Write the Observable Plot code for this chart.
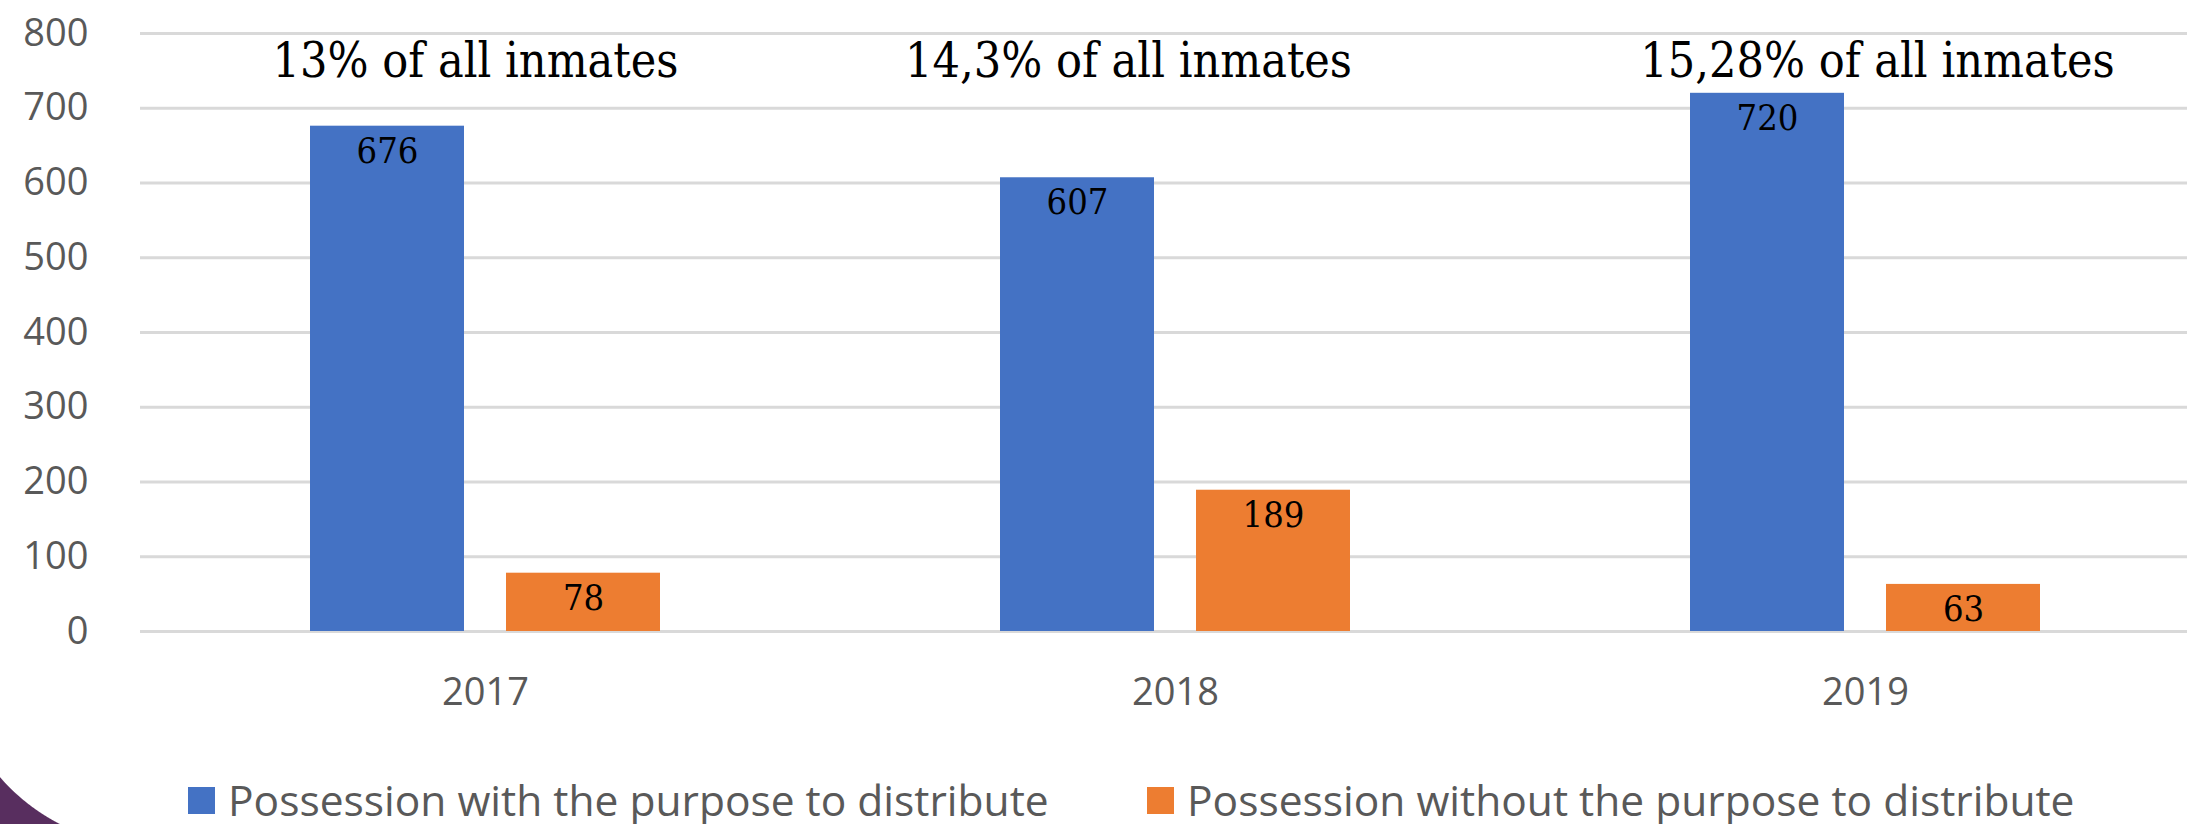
<!DOCTYPE html>
<html>
<head>
<meta charset="utf-8">
<script src="https://cdn.jsdelivr.net/npm/d3@7"></script>
<script src="https://cdn.jsdelivr.net/npm/@observablehq/plot@0.6"></script>
<style>
  html, body { margin: 0; padding: 0; background: white; overflow: hidden; width: 2187px; height: 824px; }
  #chart svg { display: block; }
  [font-family*="DejaVu Serif"] { font-stretch: condensed; }
  #legend { position: relative; height: 64px; font-family: 'Open Sans', sans-serif; color: #595959; font-size: 42.5px; line-height: 1; }
  #legend .item { position: absolute; top: 0; height: 80px; display: flex; align-items: center; white-space: nowrap; }
  #legend .sw { display: inline-block; width: 27px; height: 27px; margin-right: 13px; }
  #corner { position: absolute; left: 0; top: 760px; width: 80px; height: 64px;
    background: radial-gradient(circle 200px at 151px -114px, rgba(255,255,255,0) 199.5px, #582e5f 200.5px); }
</style>
</head>
<body>
<div id="chart"></div>
<div id="legend"></div>
<div id="corner"></div>
<script>
const years = ["2017", "2018", "2019"];
const seriesNames = [
  "Possession with the purpose to distribute",
  "Possession without the purpose to distribute"
];
const withPurpose = [676, 607, 720];
const withoutPurpose = [78, 189, 63];
const notes = ["13% of all inmates", "14,3% of all inmates", "15,28% of all inmates"];
const yTicks = [0, 100, 200, 300, 400, 500, 600, 700, 800];
const seriesColors = ["#4472C4", "#ED7D31"];

const rows = years.flatMap((year, i) => [
  {year, series: seriesNames[0], value: withPurpose[i]},
  {year, series: seriesNames[1], value: withoutPurpose[i]}
]);
const noteRows = years.map((year, i) => ({year, note: notes[i]}));

const serif = "'DejaVu Serif Condensed', 'DejaVu Serif', serif";
const noteLevel = 763;
const noteShift = {"2017": -10, "2018": -47, "2019": 12};

const chart = Plot.plot({
  width: 2187,
  height: 760,
  marginTop: 33,
  marginBottom: 129,
  marginLeft: 140,
  marginRight: 0,
  style: {fontFamily: "'Open Sans', sans-serif", color: "#595959", background: "white", overflow: "hidden"},
  fx: {domain: years, range: [140, 2210], padding: 0, label: null},
  x: {domain: seriesNames, paddingInner: 0.213, paddingOuter: 0.858, axis: null},
  y: {domain: [0, 800], label: null},
  color: {domain: seriesNames, range: seriesColors},
  marks: [
    Plot.ruleY(yTicks, {stroke: "#d9d9d9", strokeWidth: 3}),
    Plot.axisY({ticks: yTicks, tickSize: 0, tickPadding: 52, fontSize: 38, label: null}),
    Plot.axisFx({anchor: "bottom", tickSize: 0, tickPadding: 47, fontSize: 38, label: null}),
    Plot.barY(rows, {fx: "year", x: "series", y: "value", fill: "series"}),
    Plot.text(rows, {fx: "year", x: "series", y: "value", text: d => String(d.value),
      dy: 25, lineAnchor: "middle", fill: "black", fontSize: 36, fontFamily: serif}),
    ...years.map(yr => Plot.text(noteRows.filter(d => d.year === yr), {
      fx: "year", y: () => noteLevel, text: "note", frameAnchor: "middle",
      dx: noteShift[yr], lineAnchor: "middle", fill: "black", fontSize: 48, fontFamily: serif
    }))
  ]
});
document.getElementById("chart").appendChild(chart);

const legend = document.getElementById("legend");
const legendLeft = [188, 1147];
seriesNames.forEach((name, i) => {
  const item = document.createElement("div");
  item.className = "item";
  item.style.left = legendLeft[i] + "px";
  const sw = document.createElement("span");
  sw.className = "sw";
  sw.style.background = seriesColors[i];
  const label = document.createElement("span");
  label.textContent = name;
  item.appendChild(sw);
  item.appendChild(label);
  legend.appendChild(item);
});
</script>
</body>
</html>
